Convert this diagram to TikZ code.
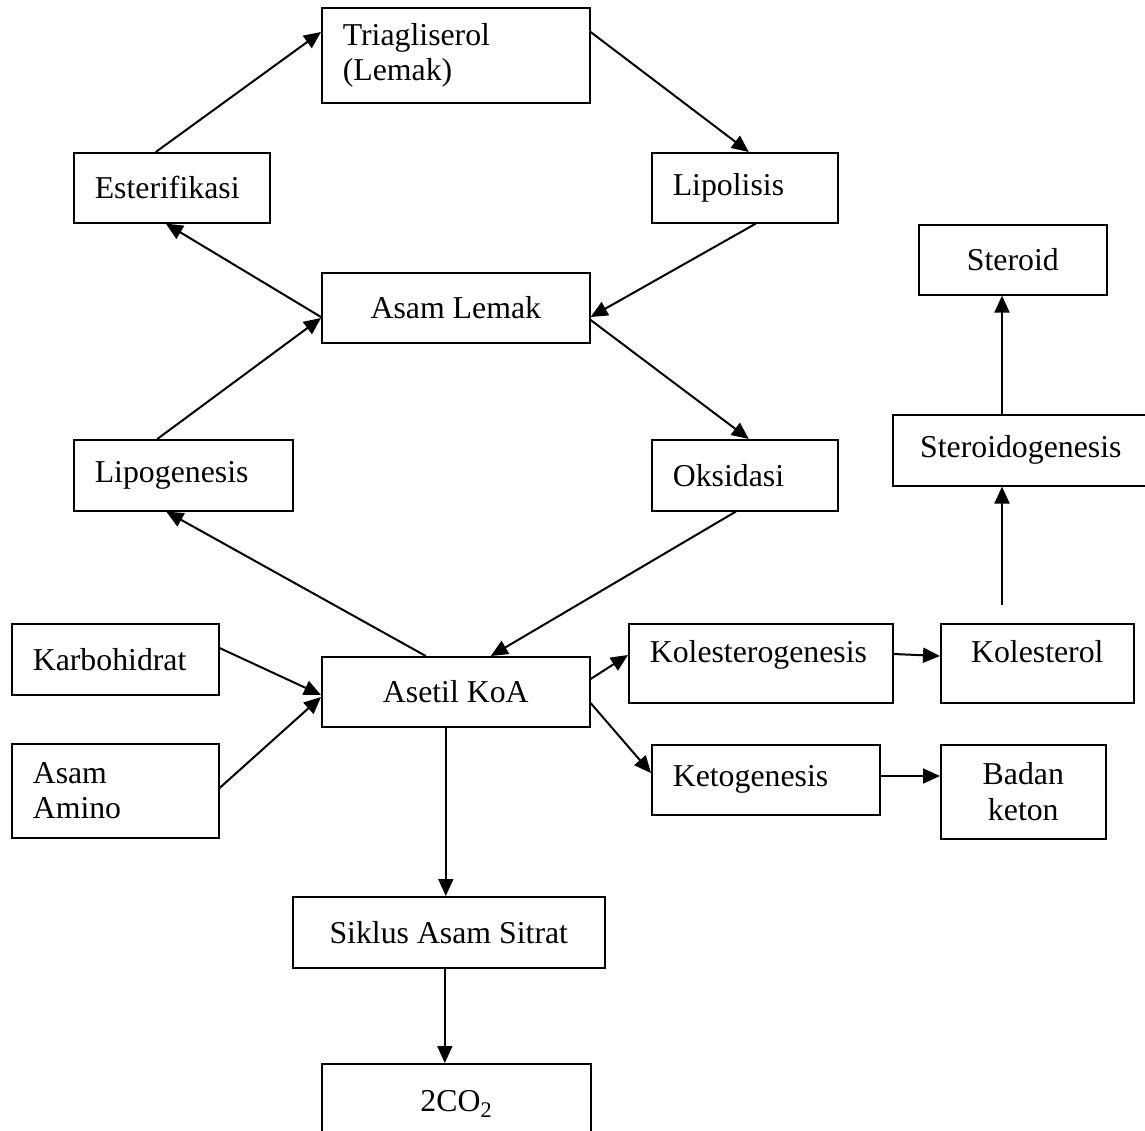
\documentclass[tikz,border=0pt]{standalone}
\usepackage{fontspec}
\setmainfont{Liberation Serif}
\usetikzlibrary{arrows.meta,calc}

\begin{document}
\begin{tikzpicture}[
x=1pt, y=-1pt,
box/.style={draw, line width=1.6pt, inner xsep=21pt, inner ysep=0pt, anchor=north west, font=\fontsize{31.8}{35.5}\selectfont},
sz/.style 2 args={minimum width=#1pt, minimum height=#2pt},
lft/.style={align=left, text width=#1pt},
mid/.style={align=center},
arr/.style={-{Triangle[length=17pt, width=15pt]}, line width=2pt}
]
\useasboundingbox (0,0) rectangle (1145,1131);

\node[box, sz={268}{95}, lft=226] (tri) at (321,7) {Triagliserol\\(Lemak)};
\node[box, sz={196}{70}, lft=154] (ester) at (73,152) {Esterifikasi};
\node[box, sz={186}{70}, lft=144] (lipo) at (651,152) {Lipolisis};
\node[box, sz={188}{70}] (steroid) at (918,224) {Steroid};
\node[box, sz={268}{70}] (alemak) at (321,272) {Asam Lemak};
\node[box, sz={219}{71}, lft=177] (lipog) at (73,439) {Lipogenesis};
\node[box, sz={186}{71}, lft=144] (oks) at (651,439) {Oksidasi};
\node[box, sz={256}{71}] (sgen) at (892,414) {Steroidogenesis};
\node[box, sz={207}{71}, lft=165] (karbo) at (11,623) {Karbohidrat};
\node[box, sz={268}{70}] (asetil) at (321,656) {Asetil KoA};
\node[box, sz={264}{79}, lft=222, text depth=23pt] (kolg) at (628,623) {Kolesterogenesis};
\node[box, sz={193}{79}, text depth=23pt] (kol) at (940,623) {Kolesterol};
\node[box, sz={207}{94}, lft=165] (amino) at (11,743) {Asam\\Amino};
\node[box, sz={228}{70}, lft=186] (keto) at (651,744) {Ketogenesis};
\node[box, sz={165}{94}, mid] (badan) at (940,744) {Badan\\keton};
\node[box, sz={312}{71}] (siklus) at (292,896) {Siklus Asam Sitrat};
\node[box, sz={269}{80}] (co2) at (321,1063) {2CO\textsubscript{2}};

\draw[arr] ($(ester.north)+(-16,0)$) -- ($(tri.north west)+(0,25)$);
\draw[arr] ($(tri.north east)+(0,25)$) -- ($(lipo.north)+(4,0)$);
\draw[arr] ($(lipo.south)+(11,0)$) -- ($(alemak.north east)+(0,45)$);
\draw[arr] ($(alemak.north east)+(0,48)$) -- ($(oks.north)+(4,0)$);
\draw[arr] ($(alemak.north west)+(0,45)$) -- ($(ester.south)+(-6,0)$);
\draw[arr] ($(lipog.north)+(-26,0)$) -- ($(alemak.north west)+(0,46)$);
\draw[arr] ($(asetil.north)+(-30,0)$) -- ($(lipog.south)+(-17,0)$);
\draw[arr] ($(oks.south)+(-9,0)$) -- ($(asetil.north)+(35,0)$);
\draw[arr] ($(karbo.north east)+(0,25)$) -- ($(asetil.north west)+(0,39)$);
\draw[arr] ($(amino.north east)+(0,45)$) -- ($(asetil.north west)+(0,41)$);
\draw[arr] ($(asetil.north east)+(0,23)$) -- ($(kolg.north west)+(0,32)$);
\draw[arr] ($(asetil.north east)+(0,47)$) -- ($(keto.north west)+(0,29)$);
\draw[arr] ($(kolg.north east)+(0,31)$) -- ($(kol.north west)+(0,33)$);
\draw[arr] ($(keto.north east)+(0,32)$) -- ($(badan.north west)+(0,32)$);
\draw[arr] ($(kol.north west)+(62,-18)$) -- ($(sgen.south west)+(110,0)$);
\draw[arr] ($(sgen.north west)+(110,0)$) -- ($(steroid.south west)+(84,0)$);
\draw[arr] ($(asetil.south)+(-10,0)$) -- ($(siklus.north)+(-3,0)$);
\draw[arr] ($(siklus.south)+(-4,0)$) -- ($(co2.north)+(-11.5,0)$);
\end{tikzpicture}
\end{document}
